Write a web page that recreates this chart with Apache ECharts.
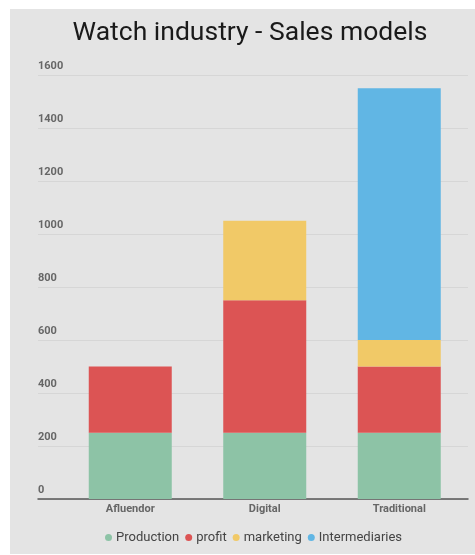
<!DOCTYPE html>
<html>
<head>
<meta charset="utf-8">
<script src="https://cdn.jsdelivr.net/npm/echarts@6/dist/echarts.min.js"></script>
<style>
html,body{margin:0;padding:0;background:#fff;}
#chart{width:475px;height:555px;}
</style>
</head>
<body>
<div id="chart"></div>
<script>
const categories = ['Afluendor', 'Digital', 'Traditional'];
const production = [250, 250, 250];
const profit = [250, 500, 250];
const marketing = [0, 300, 100];
const intermediaries = [0, 0, 950];
const yTicks = { min: 0, max: 1600, interval: 200 };

const chart = echarts.init(document.getElementById('chart'), null, { renderer: 'canvas' });
const font = 'Roboto, "Noto Sans", sans-serif';

function bar(name, data, color) {
  return {
    name: name, type: 'bar', stack: 'total', data: data,
    xAxisIndex: 1, yAxisIndex: 1,
    barWidth: 83,
    itemStyle: { color: color },
    emphasis: { disabled: true }
  };
}

chart.setOption({
  backgroundColor: '#ffffff',
  animation: false,
  graphic: [{
    type: 'rect', z: -100, silent: true,
    shape: { x: 10, y: 9, width: 465, height: 545 },
    style: { fill: '#e4e4e4' }
  }],
  title: {
    text: 'Watch industry - Sales models',
    left: 245, top: 15, textAlign: 'center',
    textStyle: { fontFamily: font, fontSize: 26.5, fontWeight: 'normal', color: '#1a1a1a' }
  },
  legend: {
    left: 100, top: 526,
    icon: 'circle', itemWidth: 7, itemHeight: 7, itemGap: 6,
    textStyle: { fontFamily: font, fontSize: 13, color: '#444', padding: [0, 0, 0, -1] },
    data: ['Production', 'profit', 'marketing', 'Intermediaries']
  },
  grid: [
    { left: 38, right: 7, top: 75, bottom: 56 },
    { left: 63, right: 8.5, top: 75, bottom: 56 }
  ],
  xAxis: [
    { type: 'category', gridIndex: 0, data: categories,
      axisLine: { show: true, lineStyle: { color: '#555', width: 1.5 } },
      axisTick: { show: false }, axisLabel: { show: false }, splitLine: { show: false } },
    { type: 'category', gridIndex: 1, data: categories,
      axisLine: { show: false }, axisTick: { show: false },
      axisLabel: { fontFamily: font, fontSize: 11, fontWeight: 'bold', color: '#666', margin: 5 } }
  ],
  yAxis: [
    { type: 'value', gridIndex: 0, min: yTicks.min, max: yTicks.max, interval: yTicks.interval,
      axisLine: { show: false }, axisTick: { show: false },
      axisLabel: { inside: true, margin: 0, align: 'left', verticalAlign: 'bottom', padding: [0, 0, 3, 0],
        formatter: function (v) { return String(v); },
        fontFamily: font, fontSize: 11, fontWeight: 'bold', color: '#666' },
      splitLine: { show: true, lineStyle: { color: '#d6d6d6', width: 1 } } },
    { type: 'value', gridIndex: 1, min: yTicks.min, max: yTicks.max, interval: yTicks.interval,
      axisLine: { show: false }, axisTick: { show: false }, axisLabel: { show: false },
      splitLine: { show: false } }
  ],
  series: [
    bar('Production', production, '#8dc3a6'),
    bar('profit', profit, '#dc5454'),
    bar('marketing', marketing, '#f1c967'),
    bar('Intermediaries', intermediaries, '#61b6e4')
  ]
});
</script>
</body>
</html>
